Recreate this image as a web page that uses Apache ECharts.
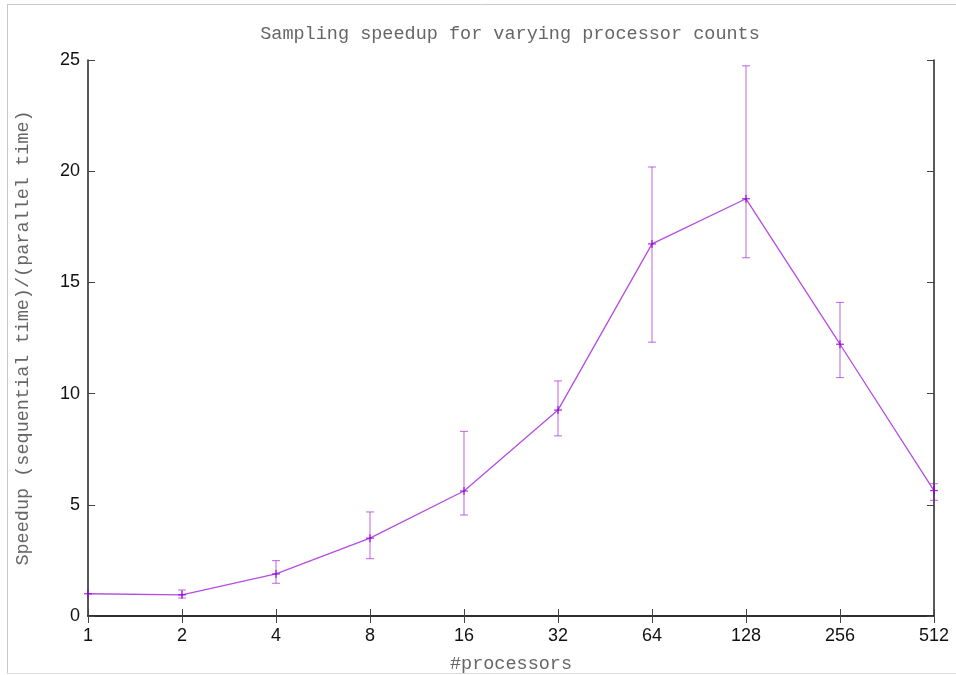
<!DOCTYPE html>
<html>
<head>
<meta charset="utf-8">
<script src="https://cdn.jsdelivr.net/npm/echarts@6/dist/echarts.min.js"></script>
<style>html,body{margin:0;padding:0;background:#fff}#c{width:956px;height:675px}</style>
</head>
<body>
<div id="c"></div>
<script>
const categories = ['1','2','4','8','16','32','64','128','256','512'];
const speedup = [1.0, 0.95, 1.89, 3.5, 5.62, 9.26, 16.73, 18.76, 12.22, 5.64];
const errLow  = [1.0, 0.81, 1.47, 2.58, 4.54, 8.1, 12.31, 16.11, 10.72, 5.2];
const errHigh = [1.0, 1.17, 2.49, 4.68, 8.3, 10.57, 20.19, 24.74, 14.1, 5.95];
const yTicks = [0, 5, 10, 15, 20, 25];

const purple = '#9400d3';
const chart = echarts.init(document.getElementById('c'));
const mono = "'Liberation Mono', 'DejaVu Sans Mono', monospace";
const sans = "'Liberation Sans', Arial, sans-serif";
const axisLine = {show: true, lineStyle: {color: '#222', width: 1.5}};
const tick = {show: true, inside: true, length: 7, lineStyle: {color: '#444', width: 1}};

chart.setOption({
  animation: false,
  backgroundColor: '#fff',
  title: {
    text: 'Sampling speedup for varying processor counts',
    left: 505, top: 20, textAlign: 'center',
    textStyle: {fontFamily: mono, fontSize: 18.5, fontWeight: 'normal', color: '#666'}
  },
  graphic: [
    {type: 'line', shape: {x1: 7, y1: 4.5, x2: 956, y2: 4.5}, style: {stroke: '#c8c8c8', lineWidth: 1}},
    {type: 'line', shape: {x1: 7.5, y1: 4, x2: 7.5, y2: 674}, style: {stroke: '#c8c8c8', lineWidth: 1}},
    {type: 'line', shape: {x1: 7, y1: 673.5, x2: 956, y2: 673.5}, style: {stroke: '#dcdcdc', lineWidth: 1}}
  ],
  grid: {left: 88, right: 22, top: 60, bottom: 59, containLabel: false, outerBoundsMode: 'none'},
  xAxis: [
    {type: 'category', data: categories, boundaryGap: false, position: 'bottom',
     name: '#processors', nameLocation: 'middle', nameGap: 39,
     nameTextStyle: {fontFamily: mono, fontSize: 18.5, color: '#666'},
     axisLine: axisLine, axisTick: Object.assign({alignWithLabel: true}, tick),
     axisLabel: {fontFamily: sans, fontSize: 18, color: '#111', margin: 11},
     splitLine: {show: false}},
    {type: 'category', data: categories, boundaryGap: false, position: 'top',
     axisLine: axisLine, axisTick: tick, axisLabel: {show: false}, splitLine: {show: false}}
  ],
  yAxis: [
    {type: 'value', min: yTicks[0], max: yTicks[yTicks.length-1], interval: 5, position: 'left',
     name: 'Speedup (sequential time)/(parallel time)', nameLocation: 'middle', nameGap: 55,
     nameTextStyle: {fontFamily: mono, fontSize: 18.5, color: '#666'},
     axisLine: axisLine, axisTick: tick,
     axisLabel: {fontFamily: sans, fontSize: 18, color: '#111', margin: 8},
     splitLine: {show: false}},
    {type: 'value', min: yTicks[0], max: yTicks[yTicks.length-1], interval: 5, position: 'right',
     axisLine: axisLine, axisTick: tick, axisLabel: {show: false}, splitLine: {show: false}}
  ],
  series: [
    {type: 'line', data: speedup, showSymbol: false, symbol: 'none', clip: false,
     lineStyle: {color: purple, width: 1.3, opacity: 0.7}, z: 3},
    {type: 'custom', clip: false, z: 4,
     data: categories.map((c, i) => [i, speedup[i], errLow[i], errHigh[i]]),
     encode: {x: 0, y: 1},
     renderItem: function (params, api) {
       const i = api.value(0);
       const p = api.coord([i, api.value(1)]);
       const lo = api.coord([i, api.value(2)]);
       const hi = api.coord([i, api.value(3)]);
       const cw = 4, mw = 4;
       const eb = {stroke: purple, lineWidth: 1.2, opacity: 0.5};
       const mk = {stroke: purple, lineWidth: 1.2, opacity: 0.85};
       const children = [];
       if (Math.abs(lo[1] - hi[1]) > 0.5) {
         children.push({type: 'line', shape: {x1: p[0], y1: lo[1], x2: p[0], y2: hi[1]}, style: eb});
         children.push({type: 'line', shape: {x1: p[0]-cw, y1: lo[1], x2: p[0]+cw, y2: lo[1]}, style: eb});
         children.push({type: 'line', shape: {x1: p[0]-cw, y1: hi[1], x2: p[0]+cw, y2: hi[1]}, style: eb});
       }
       children.push({type: 'line', shape: {x1: p[0]-mw, y1: p[1], x2: p[0]+mw, y2: p[1]}, style: mk});
       children.push({type: 'line', shape: {x1: p[0], y1: p[1]-mw, x2: p[0], y2: p[1]+mw}, style: mk});
       return {type: 'group', children: children};
     }}
  ]
});
</script>
</body>
</html>
